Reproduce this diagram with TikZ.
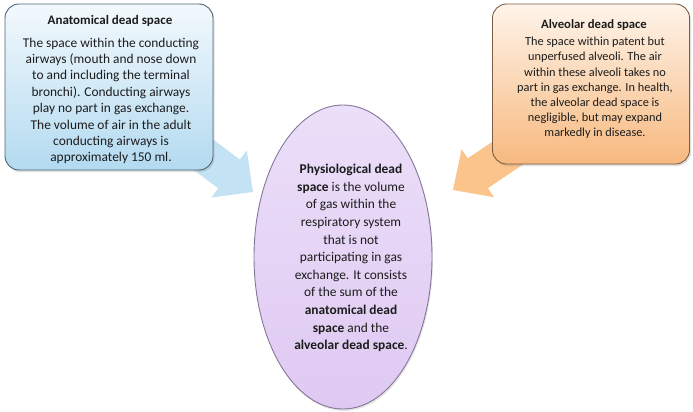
\documentclass[tikz,border=0pt]{standalone}
\usepackage{fontspec}
\setmainfont{Carlito}
\usetikzlibrary{shapes.geometric,shadows}

\definecolor{txt}{HTML}{1C1C1C}
\definecolor{blueTop}{HTML}{F3F9FD}
\definecolor{blueBot}{HTML}{B3DAF0}
\definecolor{blueEdge}{HTML}{4F6272}
\definecolor{blueArrow}{HTML}{C3E3F5}
\definecolor{orTop}{HTML}{FEF4EA}
\definecolor{orBot}{HTML}{F7B97F}
\definecolor{orEdge}{HTML}{7D5E45}
\definecolor{orArrow}{HTML}{FBC48D}
\definecolor{lavTop}{HTML}{ECDFF9}
\definecolor{lavBot}{HTML}{DFC9F2}
\definecolor{lavEdge}{HTML}{85779A}

\tikzset{
  infobox/.style={rounded corners=14pt, line width=0.9pt,
    drop shadow={opacity=0.25, shadow xshift=1.5pt, shadow yshift=-2pt}},
  bluebox/.style={infobox, draw=blueEdge, top color=blueTop, bottom color=blueBot},
  orangebox/.style={infobox, draw=orEdge, top color=orTop, bottom color=orBot},
  heading/.style={font=\fontsize{13}{15}\selectfont\bfseries, text=txt, inner sep=0pt},
  bodytext/.style={align=center, text=txt, inner sep=0pt},
}

\begin{document}
\begin{tikzpicture}[x=1pt, y=-1pt]
  \useasboundingbox (0,0) rectangle (693,412);

  % block arrows, drawn first so that their tails sit under the boxes
  \begin{scope}[shift={(253,192)}, rotate=-37]
    \coordinate (ltip) at (0,0);
    \fill[blueArrow] (ltip) -- (-30,-29.5) -- (-30,-18) -- (-95,-18)
      -- (-95,18) -- (-30,18) -- (-30,29.5) -- cycle;
  \end{scope}
  \begin{scope}[shift={(453,190)}, rotate=-146]
    \coordinate (rtip) at (0,0);
    \fill[orArrow] (rtip) -- (-30,-29) -- (-30,-18) -- (-95,-18)
      -- (-95,18) -- (-30,18) -- (-30,29) -- cycle;
  \end{scope}

  % anatomical dead space
  \node[bluebox, minimum width=208pt, minimum height=166pt] (anat) at (109,87) {};
  \node[heading] (anatT) at (110,21) {Anatomical dead space};
  \node[bodytext, font=\fontsize{13.4}{16.4}\selectfont] (anatB) at (111,101)
    {The space within the conducting\\
     airways (mouth and nose down\\
     to and including the terminal\\
     bronchi). Conducting airways\\
     play no part in gas exchange.\\
     The volume of air in the adult\\
     conducting airways is\\
     approximately 150 ml.};

  % alveolar dead space
  \node[orangebox, minimum width=197pt, minimum height=160pt] (alv) at (591,84) {};
  \node[heading, font=\fontsize{12.7}{15}\selectfont\bfseries] (alvT) at (594,25) {Alveolar dead space};
  \node[bodytext, font=\fontsize{12.3}{15.2}\selectfont] (alvB) at (595,88)
    {The space within patent but\\
     unperfused alveoli. The air\\
     within these alveoli takes no\\
     part in gas exchange. In health,\\
     the alveolar dead space is\\
     negligible, but may expand\\
     markedly in disease.};

  % physiological dead space
  \node[ellipse, draw=lavEdge, line width=0.9pt, top color=lavTop, bottom color=lavBot,
        minimum width=178pt, minimum height=304pt, inner sep=0pt,
        drop shadow={opacity=0.2, shadow xshift=1pt, shadow yshift=-2pt}]
        (phys) at (343,257) {};
  \node[bodytext, font=\fontsize{13.4}{17.6}\selectfont] (physB) at (351,258)
    {\textbf{Physiological dead}\\
     \textbf{space} is the volume\\
     of gas within the\\
     respiratory system\\
     that is not\\
     participating in gas\\
     exchange. It consists\\
     of the sum of the\\
     \textbf{anatomical dead}\\
     \textbf{space} and the\\
     \textbf{alveolar dead space}.};
\end{tikzpicture}
\end{document}
